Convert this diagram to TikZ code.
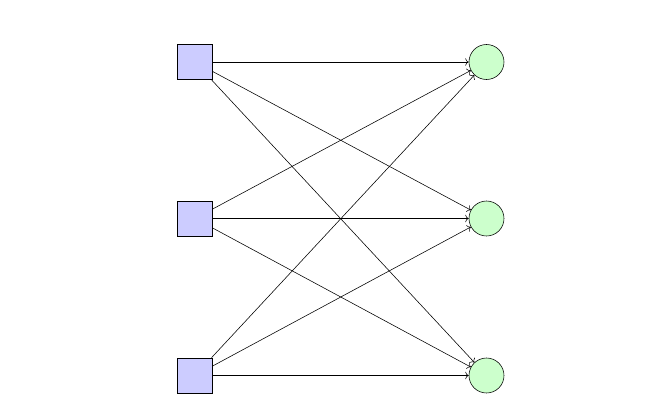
\documentclass[tikz,border=0pt]{standalone}
\usepackage{tikz}
\usetikzlibrary{arrows.meta,positioning}

\begin{document}
\begin{tikzpicture}[
  x=0.025cm, y=-0.025cm,
  src/.style={draw, fill=blue!20, minimum size=0.875cm, inner sep=0pt},
  dst/.style={draw, circle, fill=green!20, minimum size=0.875cm, inner sep=0pt},
  link/.style={->, line width=0.4pt}]

% ---- the page, in pixels of the reference -------------------------------
\useasboundingbox (0,0) rectangle (650,396);

% ---- three sources on the left, three sinks on the right ----------------
\node[src] (s1) at (195, 62) {};
\node[src] (s2) at (195,218.5) {};
\node[src] (s3) at (195,375.5) {};
\node[dst] (t1) at (486.5, 62) {};
\node[dst] (t2) at (486.5,218.5) {};
\node[dst] (t3) at (486.5,375.5) {};

% ---- every source feeds every sink ---------------------------------------
\foreach \i in {1,2,3}{
  \foreach \j in {1,2,3}{
    \draw[link] (s\i) -- (t\j);}}
\end{tikzpicture}
\end{document}
